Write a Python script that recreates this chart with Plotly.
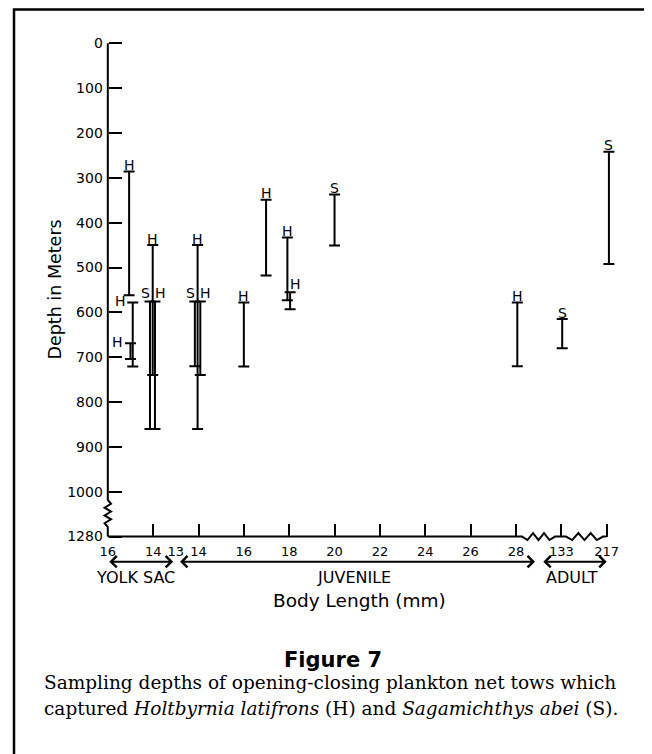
import numpy as np
import plotly.graph_objects as go

# ---------------- data ----------------
# body-length axis is broken; each label sits on an evenly spaced slot
tick_slots = [0, 1, 1.5, 2, 3, 4, 5, 6, 7, 8, 9, 10, 11]
tick_labels = ['16', '14', '13', '14', '16', '18', '20', '22', '24', '26', '28', '133', '217']
tick_marks = [1, 2, 3, 4, 5, 6, 7, 8, 9, 10, 11]

depth_ticks = [0, 100, 200, 300, 400, 500, 600, 700, 800, 900, 1000, 1280]

# net tows: slot position, opening depth, closing depth, species, label placement
bar_x = [0.47, 0.55, 0.50, 0.99, 0.93, 1.04, 1.92, 1.98, 2.04, 3.00, 3.49, 3.96, 4.02, 5.00, 9.03, 10.02, 11.05]
bar_top = [286, 578, 669, 450, 576, 576, 576, 450, 576, 578, 349, 433, 555, 337, 578, 615, 242]
bar_bot = [562, 721, 704, 740, 860, 860, 720, 860, 740, 721, 518, 573, 593, 451, 720, 680, 492]
species = ['H', 'H', 'H', 'H', 'S', 'H', 'S', 'H', 'H', 'H', 'H', 'H', 'H', 'S', 'H', 'S', 'S']
label_pos = ['top', 'left', 'left', 'top', 'tl', 'tr', 'tl', 'top', 'tr', 'top', 'top', 'top', 'tr',
             'top', 'top', 'top', 'top']

stages = ['YOLK SAC', 'JUVENILE', 'ADULT']
stage_start = [0.0, 1.56, 9.57]
stage_end = [1.44, 9.42, 11.0]
stage_label_x = [0.62, 5.42, 10.23]

# ---------------- layout geometry ----------------
W, H = 652, 754
OFF = 8                                 # page body margin in the browser
L, R, T, B = 70, 632, 10, 600           # plot area in figure px
X0, DX = 107.8 - OFF, 45.35             # figure px of slot 0, px per slot
Y0, DY = 43.3 - OFF, 0.4484             # figure px of depth 0, px per metre


def dv(d):
    """depth -> internal axis value (break between 1000 and 1280)"""
    d = np.asarray(d, dtype=float)
    return np.where(d <= 1000, d, 1000 + (d - 1000) * 100.0 / 280.0)


def v_of_px(py):          # screen px -> depth axis value
    return (py - OFF - Y0) / DY


def s_of_px(px):          # screen px -> slot axis value
    return (px - OFF - X0) / DX


def paper_x(px):          # screen px -> paper
    return (px - OFF - L) / (R - L)


def paper_y(py):
    return (B - (py - OFF)) / (B - T)


xrange = [(L - X0) / DX, (R - X0) / DX]
yrange = [(B - Y0) / DY, (T - Y0) / DY]
v_bottom = float(dv(max(depth_ticks)))

fig = go.Figure()

# ---------------- axis lines with breaks ----------------
def zigzag(a, b, n, amp):
    t = np.linspace(a, b, n + 1)
    off = np.zeros(n + 1)
    off[1:-1:2] = amp
    off[2:-1:2] = -amp
    return t, off

zt, zo = zigzag(v_of_px(500), v_of_px(527), 7, 3.2 / DX)
ya_y = np.concatenate([[0, 1000], zt, [v_bottom]])
ya_x = np.concatenate([[0, 0], zo, [0]])
fig.add_trace(go.Scatter(x=ya_x, y=ya_y, mode='lines', line=dict(color='black', width=2),
                         hoverinfo='skip', showlegend=False))

z1, o1 = zigzag(s_of_px(522), s_of_px(555), 6, 3.5 / DY)
z2, o2 = zigzag(s_of_px(566), s_of_px(603), 6, 3.5 / DY)
xa_x = np.concatenate([[0, 9], z1, [10], z2, [11]])
xa_y = np.concatenate([[v_bottom, v_bottom], v_bottom + o1, [v_bottom], v_bottom + o2, [v_bottom]])
fig.add_trace(go.Scatter(x=xa_x, y=xa_y, mode='lines', line=dict(color='black', width=2),
                         hoverinfo='skip', showlegend=False))

# ---------------- range bars ----------------
bx = np.array(bar_x)
bt = dv(bar_top)
bb = dv(bar_bot)
sp = np.array(species)
for s in ['H', 'S']:
    m = sp == s
    mid = (bt[m] + bb[m]) / 2
    half = (bb[m] - bt[m]) / 2
    fig.add_trace(go.Scatter(
        x=bx[m], y=mid, mode='markers',
        marker=dict(size=2, color='rgba(0,0,0,0)'),
        error_y=dict(type='data', array=half, symmetric=True, color='black',
                     thickness=2, width=5.5),
        name=s, showlegend=False, hoverinfo='skip'))

annotations = []
lab_font = dict(family='DejaVu Sans', size=14, color='black')
for x, top, s, pos in zip(bar_x, dv(bar_top), species, label_pos):
    a = dict(x=x, y=float(top), xref='x', yref='y', text=s, showarrow=False, font=lab_font,
             borderpad=0)
    if pos == 'top':
        a.update(xanchor='center', yanchor='bottom', yshift=-2.5)
    elif pos == 'tl':
        a.update(xanchor='right', yanchor='bottom', yshift=-0.5, xshift=1)
    elif pos == 'tr':
        a.update(xanchor='left', yanchor='bottom', yshift=-0.5, xshift=-1)
    elif pos == 'left':
        a.update(xanchor='right', yanchor='middle', xshift=-6, yshift=1)
    annotations.append(a)

# ---------------- stage arrows and labels ----------------
v_arrow = v_of_px(561.7)
v_stage = v_of_px(577.5)
for name, a0, a1, lx in zip(stages, stage_start, stage_end, stage_label_x):
    annotations.append(dict(x=a1, y=v_arrow, ax=a0, ay=v_arrow, xref='x', yref='y',
                            axref='x', ayref='y', text='', showarrow=True,
                            arrowside='end+start', arrowhead=4, startarrowhead=4,
                            arrowsize=1.1, startarrowsize=1.1, arrowwidth=2,
                            arrowcolor='black', standoff=0, startstandoff=0))
    annotations.append(dict(x=lx, y=v_stage, xref='x', yref='y', text=name, showarrow=False,
                            xanchor='center', yanchor='middle',
                            font=dict(family='DejaVu Sans', size=16, color='black')))

annotations.append(dict(x=paper_x(359.7), y=paper_y(600), xref='paper', yref='paper',
                        text='Body Length (mm)', showarrow=False, xanchor='center',
                        yanchor='middle',
                        font=dict(family='DejaVu Sans', size=18.5, color='black')))
annotations.append(dict(x=paper_x(54.5), y=paper_y(290), xref='paper', yref='paper',
                        text='Depth in Meters', showarrow=False, textangle=-90,
                        xanchor='center', yanchor='middle',
                        font=dict(family='DejaVu Sans', size=17.5, color='black')))

# ---------------- caption ----------------
annotations.append(dict(x=paper_x(332.7), y=paper_y(660), xref='paper', yref='paper',
                        text='<b>Figure 7</b>', showarrow=False, xanchor='center',
                        yanchor='middle', borderpad=0,
                        font=dict(family='DejaVu Sans', size=21, color='black')))
cap_font = dict(family='DejaVu Serif', size=18.5, color='black')
annotations.append(dict(x=paper_x(43), y=paper_y(694), xref='paper', yref='paper',
                        text='Sampling depths of opening-closing plankton net tows which',
                        showarrow=False, xanchor='left', yanchor='bottom', font=cap_font,
                        borderpad=0))
annotations.append(dict(x=paper_x(43), y=paper_y(720), xref='paper', yref='paper',
                        text='captured <i>Holtbyrnia latifrons</i> (H) and <i>Sagamichthys abei</i> (S).',
                        showarrow=False, xanchor='left', yanchor='bottom', font=cap_font,
                        borderpad=0))

shapes = [dict(type='rect', xref='paper', yref='paper',
               x0=paper_x(14), x1=paper_x(650), y0=paper_y(775), y1=paper_y(9.5),
               line=dict(color='black', width=2.5), fillcolor='rgba(0,0,0,0)', layer='below')]

fig.update_layout(
    width=W, height=H,
    margin=dict(l=L, r=W - R, t=T, b=H - B, pad=0),
    paper_bgcolor='white', plot_bgcolor='white',
    showlegend=False,
    annotations=annotations,
    shapes=shapes,
    xaxis=dict(range=xrange, anchor='free', position=(B - (Y0 + DY * v_bottom)) / (B - T),
               tickmode='array', tickvals=tick_marks, ticks='inside', ticklen=13,
               tickwidth=2, tickcolor='black', showticklabels=False,
               showgrid=False, zeroline=False, showline=False, fixedrange=True),
    xaxis2=dict(range=xrange, overlaying='x', anchor='free', side='bottom',
                position=(B - (Y0 + DY * v_bottom)) / (B - T),
                tickmode='array', tickvals=tick_slots, ticktext=tick_labels, ticks='',
                ticklabelstandoff=5,
                tickfont=dict(family='DejaVu Sans', size=13, color='black'),
                showgrid=False, zeroline=False, showline=False, fixedrange=True),
    yaxis=dict(range=yrange, anchor='free', position=(X0 - L) / (R - L),
               tickmode='array', tickvals=list(dv(depth_ticks)),
               ticktext=[str(t) for t in depth_ticks], ticks='inside', ticklen=13,
               tickwidth=2, tickcolor='black', ticklabelstandoff=5,
               tickfont=dict(family='DejaVu Sans', size=14, color='black'),
               showgrid=False, zeroline=False, showline=False, fixedrange=True),
)
fig.add_trace(go.Scatter(x=[0], y=[0], xaxis='x2', mode='markers',
                         marker=dict(color='rgba(0,0,0,0)'), hoverinfo='skip', showlegend=False))

fig.write_html('out.html')
